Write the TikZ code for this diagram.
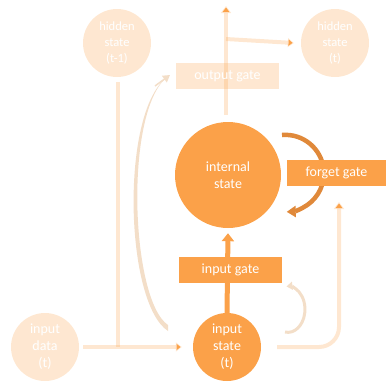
\documentclass[tikz,border=0pt]{standalone}
\usepackage{fontspec}
\setmainfont{Carlito}
\usetikzlibrary{arrows.meta}
\pgfdeclarelayer{bg}
\pgfsetlayers{bg,main}
\definecolor{org}{RGB}{251,161,73}
\definecolor{darkorg}{RGB}{224,137,58}
\definecolor{tan}{RGB}{243,222,200}
\tikzset{
  lightcirc/.style={circle, fill=org, fill opacity=0.25, text opacity=1, text=white, minimum size=68pt, inner sep=0pt, align=center, font=\fontsize{12.5}{16}\selectfont},
  darkcirc/.style={circle, fill=org, text=white, inner sep=0pt, align=center, font=\fontsize{14}{17}\selectfont},
  lightbox/.style={rectangle, fill=org, fill opacity=0.25, text opacity=1, text=white, minimum height=26pt, inner sep=0pt, font=\fontsize{14}{17}\selectfont},
  darkbox/.style={rectangle, fill=org, text=white, minimum height=26pt, inner sep=0pt, font=\fontsize{14}{17}\selectfont},
  lline/.style={draw=org, draw opacity=0.25, line width=4pt},
  tip/.style={-{Triangle[length=7pt,width=10pt]}}
}
\begin{document}
\begin{tikzpicture}[x=1pt,y=-1pt]
\useasboundingbox (0,0) rectangle (390,381);
% nodes
\node[lightcirc] (h0) at (117,43) {hidden\\state\\(t-1)};
\node[lightcirc] (h1) at (335,43) {hidden\\state\\(t)};
\node[lightbox, minimum width=103pt] (og) at (227.5,76) {output gate};
\node[darkcirc, minimum size=106pt] (is) at (228,175) {internal\\state};
\node[darkbox, minimum width=99pt] (fg) at (336.5,173) {forget gate};
\node[darkbox, minimum width=103pt] (ig) at (230.5,270) {input gate};
\node[darkcirc, minimum size=68pt] (ins) at (227,347) {input\\state\\(t)};
\node[lightcirc, minimum size=68pt, font=\fontsize{14}{17}\selectfont] (ind) at (45,347) {input\\data\\(t)};
% coordinates
\coordinate (top) at (226,6);
\coordinate (br) at (226,39);
\coordinate (isout) at (226,115);
\coordinate (join) at (118,347);
\coordinate (fgin) at (339,202);
\coordinate (corner) at (339,347);
\begin{pgfonlayer}{bg}
% output line
\draw[lline, tip] (isout) -- (top);
\draw[lline, -{Triangle[length=6pt,width=9pt]}] (br) -- ([xshift=-7pt]h1.west);
% hidden t-1 down
\draw[lline] ([yshift=-5pt]h0.south -| join) -- (join);
% input data to input state
\draw[lline, -{Triangle[length=6pt,width=9pt]}] ([xshift=4pt]ind.east) -- ([xshift=-11pt]ins.west);
% input state to forget gate
\draw[lline, rounded corners=20pt, tip] ([xshift=16pt]ins.east) -- (corner) -- (fgin);
% input state up to internal state
\draw[org, line width=5pt, -{Triangle[length=8pt,width=12pt]}] (ins.north) -- ([yshift=-5pt]is.south);
% forget self-loop
\draw[darkorg, line width=4.5pt, -{Triangle[length=9pt,width=11pt]}] (282,135) arc[start angle=-95, end angle=88, radius=38.5];
% curve to output gate
\fill[tan] (168,331) .. controls (125,303) and (120,115) .. (166,78) .. controls (124,115) and (131,300) .. (168,325) -- cycle;
\draw[tan, line width=1.5pt, -{Triangle[length=7pt,width=8pt]}] (155,86) -- (170,75);
% small loop
\draw[tan, line width=3pt, -{Triangle[length=6pt,width=8pt]}] (285,332) arc[start angle=100, end angle=-95, x radius=17, y radius=23];
\end{pgfonlayer}
\end{tikzpicture}
\end{document}
